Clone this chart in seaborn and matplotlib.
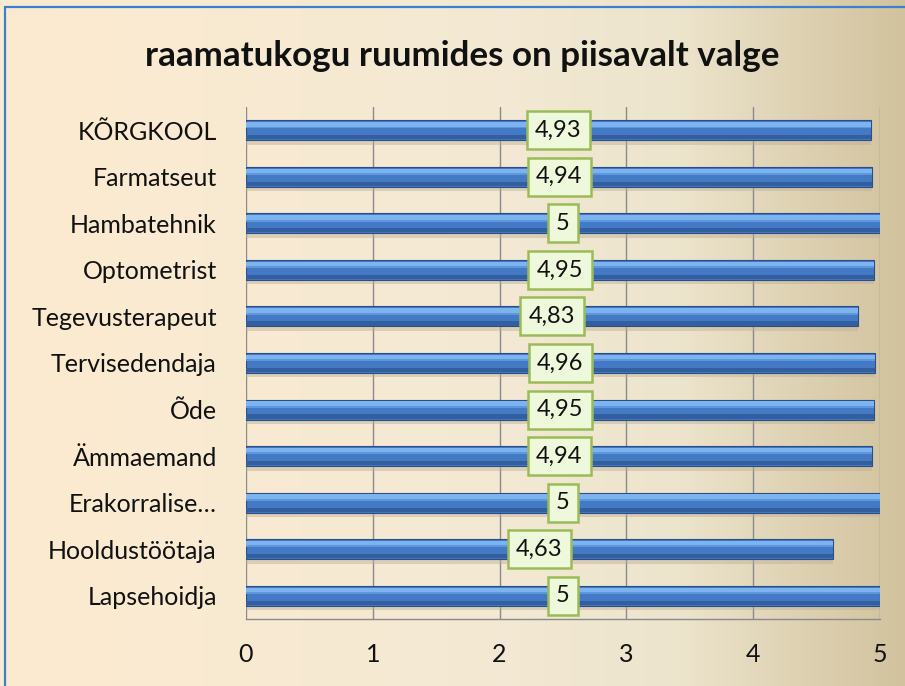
import numpy as np
import pandas as pd
import matplotlib
matplotlib.use("Agg")
import matplotlib.pyplot as plt
import seaborn as sns
from matplotlib.patches import Rectangle
from matplotlib.colors import LinearSegmentedColormap

categories = ["KÕRGKOOL", "Farmatseut", "Hambatehnik", "Optometrist", "Tegevusterapeut",
              "Tervisedendaja", "Õde", "Ämmaemand", "Erakorralise…", "Hooldustöötaja", "Lapsehoidja"]
values = [4.93, 4.94, 5, 4.95, 4.83, 4.96, 4.95, 4.94, 5, 4.63, 5]
labels = ["4,93", "4,94", "5", "4,95", "4,83", "4,96", "4,95", "4,94", "5", "4,63", "5"]
xticks = [0, 1, 2, 3, 4, 5]
title = "raamatukogu ruumides on piisavalt valge"

df = pd.DataFrame({"cat": categories, "val": values})

sns.set_theme(style="white")
plt.rcParams["font.family"] = ["Lato", "DejaVu Sans"]

fig = plt.figure(figsize=(9.05, 6.86), dpi=100)

# background gradient
bg = fig.add_axes([0, 0, 1, 1], zorder=-10)
cmap = LinearSegmentedColormap.from_list("bg", [(0, "#FDEBD0"), (0.55, "#F3E9D4"), (0.75, "#ECE4CC"), (1.0, "#D2C29E")])
bg.imshow(np.linspace(0, 1, 256)[None, :], aspect="auto", cmap=cmap, extent=[0, 1, 0, 1])
bg.set_axis_off()
bg.add_patch(Rectangle((0.006, -0.1), 2, 1.09, transform=bg.transAxes, fill=False,
                       edgecolor="#3A7FD0", linewidth=1.6))

ax = fig.add_axes([0.2718, 0.0977, 0.7006, 0.7463])
ax.set_facecolor("none")

# soft shadow under bars
ypos = np.arange(len(values))
ax.barh(ypos + 0.27, values, height=0.08, color="#BDAF94", alpha=0.45, zorder=2, linewidth=0)

sns.barplot(data=df, x="val", y="cat", orient="h", color="#4479C4", width=0.43,
            edgecolor="#2A4F86", linewidth=0.8, saturation=1, ax=ax, zorder=3)
# bevel highlight / shade bands
ax.barh(ypos - 0.125, values, height=0.1, color="#7DB3EF", zorder=4, linewidth=0)
ax.barh(ypos - 0.06, values, height=0.04, color="#5F97DC", zorder=4, linewidth=0)
ax.barh(ypos + 0.15, values, height=0.09, color="#335F9E", zorder=4, linewidth=0)

for i, (v, lab) in enumerate(zip(values, labels)):
    ax.text(v / 2, i, lab, ha="center", va="center", fontsize=17, color="#111111", zorder=6,
            bbox=dict(boxstyle="square,pad=0.36", facecolor="#EEF8DA", edgecolor="#9BBB59", linewidth=1.8))

ax.set_xlim(0, 5)
ax.set_ylim(10.5, -0.5)
ax.set_xticks(xticks)
ax.set_xticklabels([str(t) for t in xticks])
ax.grid(axis="x", color="#8A8A8A", linewidth=1, zorder=0)
ax.set_axisbelow(True)
for s in ["top", "right", "left"]:
    ax.spines[s].set_visible(False)
ax.spines["bottom"].set_color("#8A8A8A")
ax.spines["bottom"].set_linewidth(1)
ax.tick_params(axis="x", length=0, pad=17, labelsize=18, labelcolor="#111111")
ax.tick_params(axis="y", length=0, pad=21, labelsize=18, labelcolor="#111111")
ax.set_xlabel("")
ax.set_ylabel("")

fig.text(0.511, 0.918, title, ha="center", va="center", fontsize=25.2, fontweight="bold", color="#111111")

fig.savefig("out.png", dpi=100)
